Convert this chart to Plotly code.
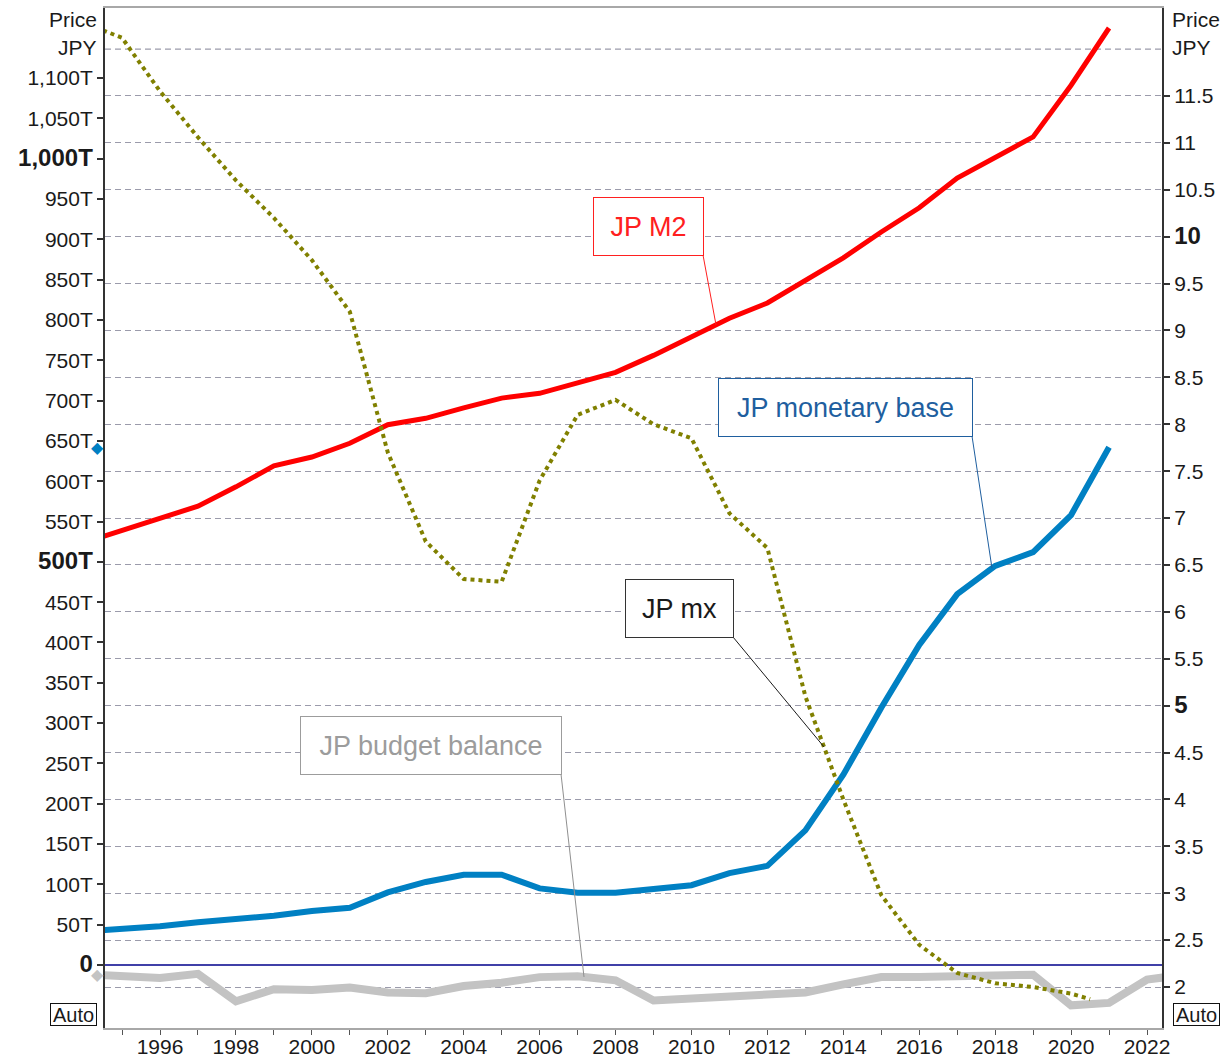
import numpy as np
import plotly.graph_objects as go

# ---------------- data ----------------
m2_years = list(range(1994, 2022))
m2 = [524, 539, 554, 569, 593, 619, 630, 647, 670, 678, 691, 703, 709, 722, 735,
      756, 779, 802, 821, 849, 877, 909, 939, 976, 1002, 1027, 1091, 1162]
mb_years = list(range(1994, 2022))
mb = [41.5, 44.6, 48, 53, 57, 61, 67, 71, 90, 103, 112, 112, 95, 89.5, 89.5,
      94, 99, 114, 123, 167, 236, 319, 397, 460, 495, 512, 558, 642]
bb_years = list(range(1994, 2024))
bb = [-11.5, -13.5, -16, -11, -45, -30, -31, -28, -34, -35, -26, -22, -15, -14, -19,
      -44, -42, -39, -36, -34, -24, -15, -15, -14, -11, -12, -50, -47, -18, -12]
mx_years = [1994.5] + list(range(1995, 2021)) + [2020.5]
mx = [12.2, 12.12, 11.55, 11.06, 10.6, 10.2, 9.75, 9.2, 7.7, 6.75, 6.35, 6.32, 7.4,
      8.1, 8.26, 8.0, 7.85, 7.05, 6.68, 5.1, 4.0, 2.98, 2.45, 2.15, 2.04, 2.0, 1.93, 1.87]

left_ticks = list(range(0, 1101, 50))
right_ticks = [2 + 0.5 * i for i in range(20)]
x_ticks = list(range(1995, 2023))

# ---------------- geometry ----------------
W, H = 1226, 1057
ML, MR, MT, MB_ = 105, 64, 8, 29
PW, PH = W - ML - MR, H - MT - MB_
XR = [1994.551, 2022.395]
YL = [-78.1, 1186.8]
YRR = [1.563, 12.438]
FONT = "Arial, Liberation Sans, sans-serif"
TICK = 21


def px2x(px):
    return XR[0] + (px - ML) / PW * (XR[1] - XR[0])


def py2yl(py):
    return YL[1] - (py - MT) / PH * (YL[1] - YL[0])


def py2yr(py):
    return YRR[1] - (py - MT) / PH * (YRR[1] - YRR[0])


def pxp(px):
    return (px - ML) / PW


def pyp(py):
    return (MT + PH - py) / PH


def big_bold(s):
    return f"<span style='font-size:24px'><b>{s}</b></span>"


def fmt_left(v):
    s = "0" if v == 0 else f"{v:,}T"
    return big_bold(s) if v in (0, 500, 1000) else s


def fmt_right(v):
    s = f"{v:g}"
    return big_bold(s) if v in (5, 10) else s


fig = go.Figure()

fig.add_trace(go.Scatter(x=bb_years, y=bb, mode="lines", name="JP budget balance",
                         line=dict(color="#c3c3c3", width=8)))
fig.add_trace(go.Scatter(x=m2_years, y=m2, mode="lines", name="JP M2",
                         line=dict(color="#ff0000", width=5)))
fig.add_trace(go.Scatter(x=mb_years, y=mb, mode="lines", name="JP monetary base",
                         line=dict(color="#0080c3", width=6)))
fig.add_trace(go.Scatter(x=mx_years, y=mx, mode="lines", name="JP mx", yaxis="y2",
                         line=dict(color="#808000", width=4, dash="4px,4px")))

annots = []
shapes = []

# last-value markers just outside the left axis
for val, col in ((mb[-1], "#0080c3"), (bb[-1], "#c3c3c3")):
    annots.append(dict(text="◆", xref="paper", yref="y", x=pxp(97), y=val,
                       xanchor="center", yanchor="middle", showarrow=False,
                       font=dict(family="DejaVu Sans", size=16, color=col)))


def label_box(text, x0, y0, x1, y1, color, border, size=27):
    annots.append(dict(text=text, xref="paper", yref="paper",
                       x=pxp((x0 + x1) / 2), y=pyp((y0 + y1) / 2),
                       xanchor="center", yanchor="middle", showarrow=False,
                       width=x1 - x0 - 1, height=y1 - y0 - 1, borderpad=0,
                       bordercolor=border, borderwidth=1, bgcolor="white",
                       font=dict(family=FONT, size=size, color=color)))


def leader(cx, cy, yr, xs, ys, color, axis="y"):
    ty = float(np.interp(yr, xs, ys))
    y0 = py2yl(cy) if axis == "y" else py2yr(cy)
    shapes.append(dict(type="line", xref="x", yref=axis, x0=px2x(cx), y0=y0,
                       x1=yr, y1=ty, line=dict(color=color, width=1)))


label_box("JP M2", 593, 197, 703, 255, "#ff2020", "#ff2020")
leader(703, 255, px2x(716), m2_years, m2, "#ff2020")
label_box("JP monetary base", 718, 378, 972, 436, "#1f5f9f", "#1f5f9f")
leader(972, 436, px2x(992), mb_years, mb, "#1f5f9f")
label_box("JP mx", 625, 579, 733, 637, "#1a1a1a", "#333333")
leader(733, 637, px2x(824), mx_years, mx, "#1a1a1a", axis="y2")
label_box("JP budget balance", 300, 716, 561, 774, "#9c9c9c", "#9c9c9c")
leader(561, 774, px2x(584), bb_years, bb, "#909090")

# axis captions
for txt, py in (("Price", 20), ("JPY", 48)):
    annots.append(dict(text=txt, xref="paper", yref="paper", x=pxp(99), y=pyp(py),
                       xanchor="right", yanchor="middle", showarrow=False,
                       font=dict(family=FONT, size=TICK, color="#1a1a1a")))
    annots.append(dict(text=txt, xref="paper", yref="paper", x=pxp(1170), y=pyp(py),
                       xanchor="left", yanchor="middle", showarrow=False,
                       font=dict(family=FONT, size=TICK, color="#1a1a1a")))
for cx in (73.5, 1196.5):
    annots.append(dict(text="Auto", xref="paper", yref="paper", x=pxp(cx), y=pyp(1014),
                       xanchor="center", yanchor="middle", showarrow=False,
                       width=45, height=21, borderpad=0, bordercolor="#111111",
                       borderwidth=1, bgcolor="white",
                       font=dict(family=FONT, size=20, color="#1a1a1a")))

# top grid line (12) of the right scale
shapes.append(dict(type="line", xref="paper", yref="y2", x0=0, x1=1, y0=12, y1=12,
                   layer="below", line=dict(color="#9b9bab", width=1.2, dash="6px,4px")))

fig.update_layout(
    width=W, height=H,
    margin=dict(l=ML, r=MR, t=MT, b=MB_, autoexpand=False),
    paper_bgcolor="white", plot_bgcolor="white",
    showlegend=False,
    font=dict(family=FONT, size=TICK, color="#1a1a1a"),
    annotations=annots, shapes=shapes,
    xaxis=dict(range=XR, tickvals=x_ticks,
               ticktext=[str(y) if y % 2 == 0 else "" for y in x_ticks],
               ticks="outside", ticklen=5, tickcolor="#555555", tickwidth=1,
               tickfont=dict(size=TICK, color="#1a1a1a"), ticklabelstandoff=-6,
               showline=True, linecolor="#a8a8a8", linewidth=2, mirror=True,
               showgrid=False, zeroline=False, fixedrange=True),
    xaxis2=dict(range=XR, overlaying="x", side="top",
                tickvals=[y for y in x_ticks if y % 2 == 0],
                ticks="inside", ticklen=5, tickcolor="#777777",
                showticklabels=False, showgrid=False, zeroline=False, showline=False),
    yaxis=dict(range=YL, tickvals=left_ticks, ticktext=[fmt_left(v) for v in left_ticks],
               ticks="outside", ticklen=6, tickcolor="#333333", tickwidth=1.5,
               tickfont=dict(size=TICK, color="#1a1a1a"),
               showline=True, linecolor="#333333", linewidth=2,
               showgrid=False, zeroline=True, zerolinecolor="#4040a8", zerolinewidth=1.5),
    yaxis2=dict(range=YRR, overlaying="y", side="right", tickvals=right_ticks,
                ticktext=[fmt_right(v) for v in right_ticks],
                ticks="outside", ticklen=6, tickcolor="#333333", tickwidth=1.5,
                tickfont=dict(size=TICK, color="#1a1a1a"),
                showline=True, linecolor="#333333", linewidth=2,
                showgrid=True, gridcolor="#9b9bab", gridwidth=1.2, griddash="6px,4px",
                zeroline=False),
)

fig.write_html("out.html", config={"displayModeBar": False},
               post_script="document.body.style.margin='0px';"
                           "document.body.style.overflow='hidden';")
